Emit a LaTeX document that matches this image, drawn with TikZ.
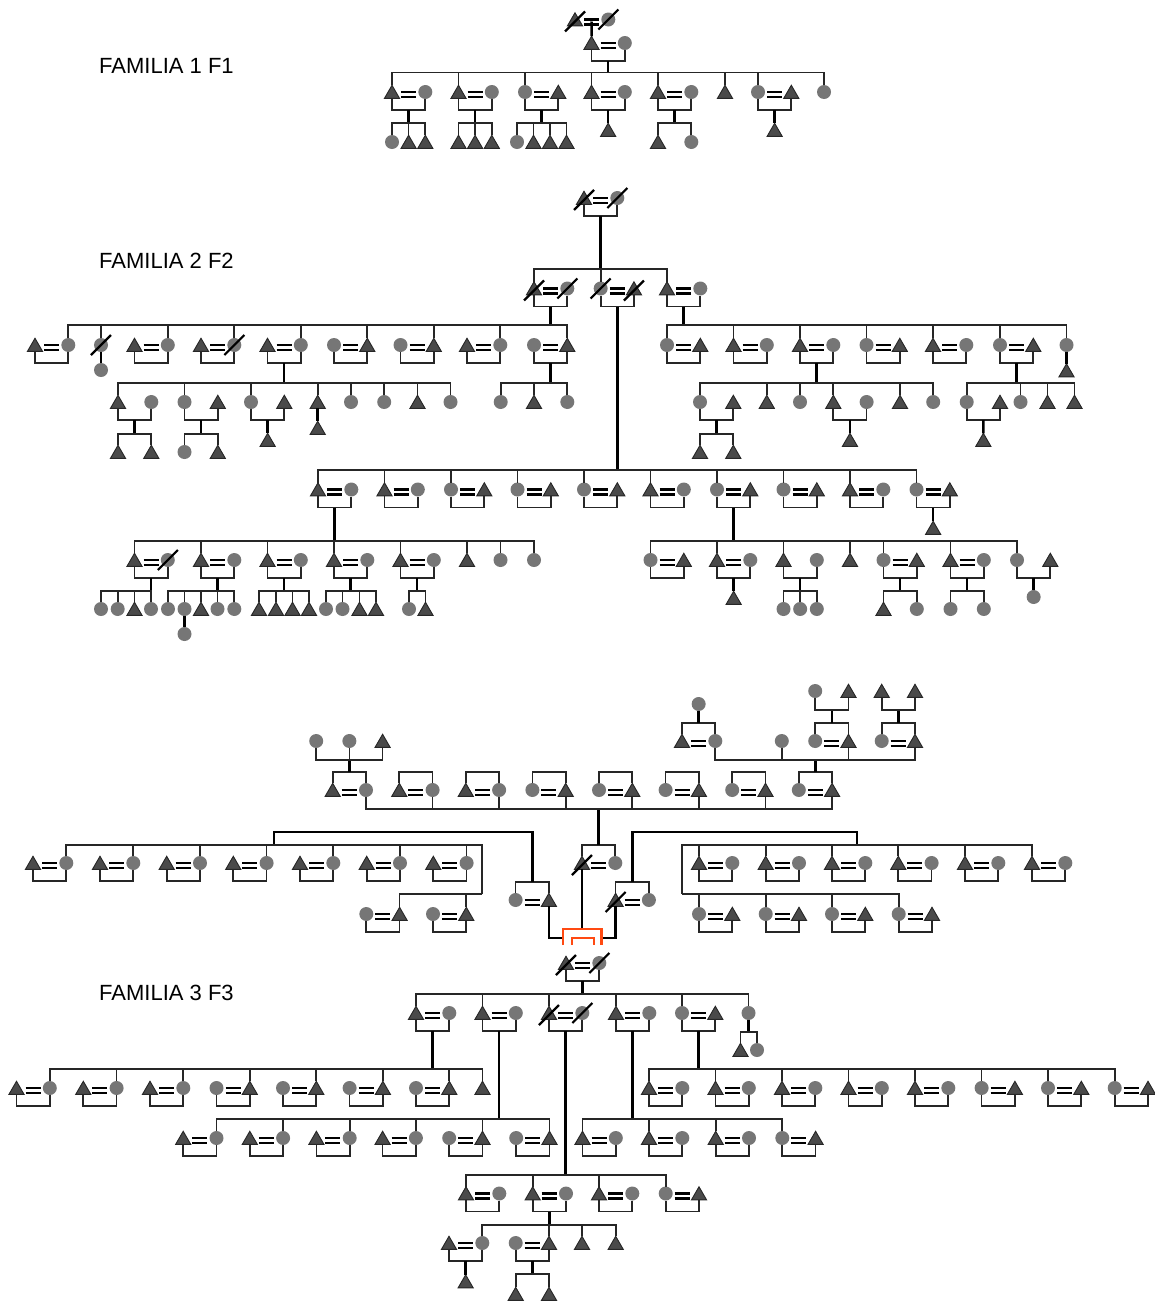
\documentclass[tikz,border=0pt]{standalone}
\usepackage{fontspec}
\setmainfont{Liberation Sans}
\usepackage{xcolor}
\usepackage{tikz}
\usetikzlibrary{shapes.geometric, positioning}

\definecolor{maleGray}{HTML}{4A4A4A}
\definecolor{femaleGray}{HTML}{767676}
\definecolor{lineGray}{HTML}{262626}
\definecolor{incestRed}{HTML}{FF4A12}

\newcommand{\spouses}[5]{%
  \node[#4] (#1-l) at (#2,#3) {};
  \node[#5] (#1-r) at (#2+33.3,#3) {};
  \coordinate (#1-e) at (#2+16.65,#3+2);
  \draw[wed] (#2+9,#3+0.1) -- ++(15,0);
  \draw[wed] (#2+9,#3+4.9) -- ++(15,0);
}
\newcommand{\parents}[5]{%
  \node[#4] (#1-l) at (#2,#3) {};
  \node[#5] (#1-r) at (#2+33.3,#3) {};
  \coordinate (#1-m) at (#2+16.65,#3+18);
  \draw[kin] (#1-l.south) |- (#1-m) -| (#1-r.south);
}
\newcommand{\couple}[5]{%
  \spouses{#1}{#2}{#3}{#4}{#5}
  \coordinate (#1-m) at (#2+16.65,#3+18);
  \draw[kin] (#1-l.south) |- (#1-m) -| (#1-r.south);
}
\newcommand{\coupleup}[5]{%
  \spouses{#1}{#2}{#3}{#4}{#5}
  \coordinate (#1-m) at (#2+16.65,#3-18);
  \draw[kin] (#1-l.north) |- (#1-m) -| (#1-r.north);
}
\newcommand{\people}[2]{\foreach \nm/\kd/\xx in {#2} \node[\kd] (\nm) at (\xx,#1) {};}
\newcommand{\descent}[4][north]{%
  \coordinate (#2-drop) at (#2 |- 0,#3);
  \draw[link] (#2) -- (#2-drop);
  \foreach \kid in {#4} \draw[kin] (#2-drop) -| (\kid.#1);
}
\newcommand{\deceased}[1]{\draw[slash] ([shift={(-10,10)}]#1.center) -- ([shift={(10,-10)}]#1.center);}

\begin{document}
\begin{tikzpicture}[
    x=1pt, y=-1pt,
    tri/.style={regular polygon, regular polygon sides=3, minimum size=17.5pt, inner sep=0pt, outer sep=0pt, draw=lineGray, line width=0.9pt, fill=maleGray, yshift=-2pt},
    cir/.style={circle, minimum size=14pt, inner sep=0pt, outer sep=0pt, fill=femaleGray},
    kin/.style={line width=1.7pt, lineGray},
    link/.style={line width=2.5pt, black},
    wed/.style={line width=2.5pt, black},
    slash/.style={line width=2.2pt, black},
    incest/.style={line width=2.4pt, incestRed},
    familytitle/.style={anchor=west, inner sep=0pt, font=\fontsize{22}{26}\selectfont}
]
\useasboundingbox (0,0) rectangle (1155,1304);

\node[familytitle] (title1) at (99,66) {FAMILIA 1 F1};
\node[familytitle] (title2) at (99,261) {FAMILIA 2 F2};
\node[familytitle] (title3) at (99,993) {FAMILIA 3 F3};

% familia 1
\spouses{f1top}{575}{19.5}{tri}{cir}
\deceased{f1top-l}
\deceased{f1top-r}
\couple{f1par}{591.5}{43}{tri}{cir}
\draw[link] (f1top-e) -- (f1par-l.north);
\couple{f1a}{392}{92}{tri}{cir}
\couple{f1b}{458.5}{92}{tri}{cir}
\couple{f1c}{525}{92}{cir}{tri}
\couple{f1d}{591.5}{92}{tri}{cir}
\couple{f1e}{658}{92}{tri}{cir}
\couple{f1g}{758}{92}{cir}{tri}
\people{92}{f1f/tri/725, f1h/cir/824}
\descent{f1par-m}{72.5}{f1a-l,f1b-l,f1c-l,f1d-l,f1e-l,f1f,f1g-l,f1h}
\people{142}{f1a1/cir/392, f1a2/tri/408.6, f1a3/tri/425.3}
\people{142}{f1b1/tri/458.5, f1b2/tri/475.1, f1b3/tri/491.8}
\people{142}{f1c1/cir/517, f1c2/tri/533.5, f1c3/tri/550, f1c4/tri/566.5}
\people{142}{f1e1/tri/658, f1e2/cir/691.3}
\people{130}{f1d1/tri/608.15, f1g1/tri/774.65}
\descent{f1a-m}{123}{f1a1,f1a2,f1a3}
\descent{f1b-m}{123}{f1b1,f1b2,f1b3}
\descent{f1c-m}{123}{f1c1,f1c2,f1c3,f1c4}
\descent{f1e-m}{123}{f1e1,f1e2}
\draw[link] (f1d-m) -- (f1d1.north);
\draw[link] (f1g-m) -- (f1g1.north);

% familia 2
\couple{f2top}{584}{198}{tri}{cir}
\deceased{f2top-l}
\deceased{f2top-r}
\couple{f2a}{534}{288.5}{tri}{cir}
\couple{f2b}{600.65}{288.5}{cir}{tri}
\couple{f2c}{667}{288.5}{tri}{cir}
\deceased{f2a-l}
\deceased{f2a-r}
\deceased{f2b-l}
\deceased{f2b-r}
\descent{f2top-m}{269}{f2a-l,f2b-l,f2c-l}

\couple{f2d}{35}{345}{tri}{cir}
\couple{f2f}{134.5}{345}{tri}{cir}
\couple{f2g}{201}{345}{tri}{cir}
\couple{f2h}{267.5}{345}{tri}{cir}
\couple{f2i}{334}{345}{cir}{tri}
\couple{f2j}{400.5}{345}{cir}{tri}
\couple{f2k}{467}{345}{tri}{cir}
\couple{f2l}{534}{345}{cir}{tri}
\people{345}{f2e/cir/101}
\people{370}{f2e1/cir/101}
\deceased{f2e}
\deceased{f2g-r}
\draw[link] (f2e.south) -- (f2e1.north);
\descent{f2a-m}{325}{f2d-r,f2e,f2f-r,f2g-r,f2h-r,f2i-r,f2j-r,f2k-r,f2l-r}

\parents{f2m}{118}{402}{tri}{cir}
\parents{f2n}{184.5}{402}{cir}{tri}
\parents{f2o}{251}{402}{cir}{tri}
\people{402}{f2p/tri/317.7, f2p2/cir/351, f2p3/cir/384.2, f2p4/tri/417.5, f2p5/cir/450.5}
\descent{f2h-m}{383}{f2m-l,f2n-l,f2o-l,f2p,f2p2,f2p3,f2p4,f2p5}
\people{452}{f2m1/tri/118, f2m2/tri/151.3, f2n1/cir/184.5, f2n2/tri/217.8}
\people{440}{f2o1/tri/267.65}
\people{428}{f2p1/tri/317.7}
\descent{f2m-m}{434}{f2m1,f2m2}
\descent{f2n-m}{434}{f2n1,f2n2}
\draw[link] (f2o-m) -- (f2o1.north);
\draw[link] (f2p.south) -- (f2p1.north);
\people{402}{f2l1/cir/500.7, f2l2/tri/534, f2l3/cir/567.3}
\descent{f2l-m}{383}{f2l1,f2l2,f2l3}

\couple{f2q}{667}{345}{cir}{tri}
\couple{f2r}{733.5}{345}{tri}{cir}
\couple{f2s}{800}{345}{tri}{cir}
\couple{f2t}{866.5}{345}{cir}{tri}
\couple{f2u}{933}{345}{tri}{cir}
\couple{f2v}{1000}{345}{cir}{tri}
\people{345}{f2w/cir/1066.5}
\people{370.5}{f2w1/tri/1066.5}
\draw[link] (f2w.south) -- (f2w1.north);
\descent{f2c-m}{325}{f2q-l,f2r-l,f2s-l,f2t-l,f2u-l,f2v-l,f2w}

\parents{f2x}{700}{402}{cir}{tri}
\parents{f2y}{833.3}{402}{tri}{cir}
\people{402}{f2s3/tri/766.8, f2s4/cir/800, f2s7/tri/900, f2s8/cir/933.2}
\descent{f2s-m}{383}{f2x-l,f2s3,f2s4,f2y-l,f2s7,f2s8}
\people{452}{f2x1/tri/700, f2x2/tri/733.3}
\people{440}{f2y1/tri/849.95}
\descent{f2x-m}{434}{f2x1,f2x2}
\draw[link] (f2y-m) -- (f2y1.north);
\parents{f2z}{966.7}{402}{cir}{tri}
\people{402}{f2v3/cir/1020.5, f2v4/tri/1047.5, f2v5/tri/1074.5}
\descent{f2v-m}{383}{f2z-l,f2v3,f2v4,f2v5}
\people{440}{f2z1/tri/983.35}
\draw[link] (f2z-m) -- (f2z1.north);

\couple{f2r4a}{318}{489.5}{tri}{cir}
\couple{f2r4b}{384.5}{489.5}{tri}{cir}
\couple{f2r4c}{451}{489.5}{cir}{tri}
\couple{f2r4d}{517.5}{489.5}{cir}{tri}
\couple{f2r4e}{584}{489.5}{cir}{tri}
\couple{f2r4f}{650.5}{489.5}{tri}{cir}
\couple{f2r4g}{717}{489.5}{cir}{tri}
\couple{f2r4h}{783.5}{489.5}{cir}{tri}
\couple{f2r4i}{850}{489.5}{tri}{cir}
\couple{f2r4j}{916.5}{489.5}{cir}{tri}
\descent{f2b-m}{470}{f2r4a-l,f2r4b-l,f2r4c-l,f2r4d-l,f2r4e-l,f2r4f-l,f2r4g-l,f2r4h-l,f2r4i-l,f2r4j-l}
\people{528}{f2r4j1/tri/933.15}
\draw[link] (f2r4j-m) -- (f2r4j1.north);

\couple{f2r5a}{134.5}{560}{tri}{cir}
\couple{f2r5b}{201}{560}{tri}{cir}
\couple{f2r5c}{267.5}{560}{tri}{cir}
\couple{f2r5d}{334}{560}{tri}{cir}
\couple{f2r5e}{400.5}{560}{tri}{cir}
\people{560}{f2r5f/tri/467, f2r5g/cir/500.5, f2r5h/cir/534}
\deceased{f2r5a-r}
\descent{f2r4a-m}{541}{f2r5a-l,f2r5b-l,f2r5c-l,f2r5d-l,f2r5e-l,f2r5f,f2r5g,f2r5h}
\people{609}{f2a1/cir/101, f2a2/cir/117.7, f2a3/tri/134.5, f2a4/cir/151}
\people{609}{f2b1/cir/168, f2b2/cir/184.5, f2b3/tri/201, f2b4/cir/217.5, f2b5/cir/234.3}
\people{609}{f2c1/tri/259, f2c2/tri/276, f2c3/tri/292.5, f2c4/tri/309}
\people{609}{f2d1/cir/326, f2d2/cir/342.5, f2d3/tri/359.5, f2d4/tri/376}
\people{609}{f2e2/cir/409, f2e3/tri/425.5}
\people{634}{f2b21/cir/184.5}
\descent{f2r5a-m}{591}{f2a1,f2a2,f2a3,f2a4}
\descent{f2r5b-m}{591}{f2b1,f2b2,f2b3,f2b4,f2b5}
\descent{f2r5c-m}{591}{f2c1,f2c2,f2c3,f2c4}
\descent{f2r5d-m}{591}{f2d1,f2d2,f2d3,f2d4}
\descent{f2r5e-m}{591}{f2e2,f2e3}
\draw[link] (f2b2.south) -- (f2b21.north);

\couple{f2r5k}{650.5}{560}{cir}{tri}
\couple{f2r5l}{717}{560}{tri}{cir}
\parents{f2r5m}{783.5}{560}{tri}{cir}
\people{560}{f2r5n/tri/850}
\couple{f2r5o}{883.5}{560}{cir}{tri}
\couple{f2r5p}{950.5}{560}{tri}{cir}
\parents{f2r5q}{1017}{560}{cir}{tri}
\descent{f2r4g-m}{541}{f2r5k-l,f2r5l-l,f2r5m-l,f2r5n,f2r5o-l,f2r5p-l,f2r5q-l}
\people{598}{f2l4/tri/733.65}
\people{597}{f2q1/cir/1033.65}
\people{609}{f2m3/cir/783.5, f2m4/cir/800.15, f2m5/cir/816.8}
\people{609}{f2o2/tri/883.5, f2o3/cir/916.8, f2p6/cir/950.5, f2p7/cir/983.8}
\draw[link] (f2r5l-m) -- (f2l4.north);
\draw[link] (f2r5q-m) -- (f2q1.north);
\descent{f2r5m-m}{591}{f2m3,f2m4,f2m5}
\descent{f2r5o-m}{591}{f2o2,f2o3}
\descent{f2r5p-m}{591}{f2p6,f2p7}

% familia 3
\coupleup{f3a1}{332.7}{790}{tri}{cir}
\coupleup{f3a2}{399.3}{790}{tri}{cir}
\coupleup{f3a3}{465.8}{790}{tri}{cir}
\coupleup{f3a4}{532.4}{790}{cir}{tri}
\coupleup{f3a5}{599}{790}{cir}{tri}
\coupleup{f3a6}{665.6}{790}{cir}{tri}
\coupleup{f3a7}{732.2}{790}{cir}{tri}
\coupleup{f3a8}{798.8}{790}{cir}{tri}
\people{741}{f3t1/cir/316.2, f3t2/cir/349.35, f3t3/tri/382.6}
\descent[south]{f3a1-m}{760}{f3t1,f3t2,f3t3}
\coupleup{f3u}{682}{741}{tri}{cir}
\coupleup{f3v}{815.2}{741}{cir}{tri}
\coupleup{f3w}{881.7}{741}{cir}{tri}
\people{741}{f3x/cir/781.8}
\descent[south]{f3a8-m}{760}{f3u-r,f3x,f3v-r,f3w-r}
\people{704}{f3u1/cir/698.65}
\draw[link] (f3u-m) -- (f3u1.south);
\people{691}{f3v1/cir/815.2, f3v2/tri/848.5, f3w1/tri/881.7, f3w2/tri/915}
\descent[south]{f3v-m}{710}{f3v1,f3v2}
\descent[south]{f3w-m}{710}{f3w1,f3w2}

\coupleup{f3b}{582}{863}{tri}{cir}
\deceased{f3b-l}
\descent[south]{f3b-m}{809}{f3a1-r,f3a2-r,f3a3-r,f3a4-r,f3a5-r,f3a6-r,f3a7-r,f3a8-r}
\coupleup{f3c}{515.6}{900}{cir}{tri}
\coupleup{f3d}{615.6}{900}{tri}{cir}
\deceased{f3d-l}

\couple{f3l1}{33}{863}{tri}{cir}
\couple{f3l2}{100}{863}{tri}{cir}
\couple{f3l3}{166.7}{863}{tri}{cir}
\couple{f3l4}{233.3}{863}{tri}{cir}
\couple{f3l5}{300}{863}{tri}{cir}
\couple{f3l6}{366.7}{863}{tri}{cir}
\couple{f3l7}{433.3}{863}{tri}{cir}
\couple{f3l8}{366.3}{914}{cir}{tri}
\couple{f3l9}{433}{914}{cir}{tri}
\coordinate (f3lbar) at (274,845);
\coordinate (f3ltop) at (274,832);
\coordinate (f3lturn) at (482,894);
\draw[link] (f3c-m) |- (f3ltop) -- (f3lbar);
\foreach \kid in {f3l1-r,f3l2-r,f3l3-r,f3l4-r,f3l5-r,f3l6-r,f3l7-r} \draw[kin] (f3lbar) -| (\kid.north);
\draw[kin] (f3lbar) -| (f3lturn);
\draw[kin] (f3lturn) -| (f3l8-r.north);
\draw[kin] (f3lturn) -| (f3l9-r.north);

\couple{f3r1}{699}{863}{tri}{cir}
\couple{f3r2}{765.7}{863}{tri}{cir}
\couple{f3r3}{832}{863}{tri}{cir}
\couple{f3r4}{898.3}{863}{tri}{cir}
\couple{f3r5}{965}{863}{tri}{cir}
\couple{f3r6}{1032}{863}{tri}{cir}
\couple{f3r7}{699}{914}{cir}{tri}
\couple{f3r8}{765.7}{914}{cir}{tri}
\couple{f3r9}{832}{914}{cir}{tri}
\couple{f3r10}{898.7}{914}{cir}{tri}
\coordinate (f3rbar) at (857,845);
\coordinate (f3rtop) at (857,832);
\coordinate (f3rturn) at (682,894);
\draw[link] (f3d-m) |- (f3rtop) -- (f3rbar);
\foreach \kid in {f3r1-l,f3r2-l,f3r3-l,f3r4-l,f3r5-l,f3r6-l} \draw[kin] (f3rbar) -| (\kid.north);
\draw[kin] (f3rbar) -| (f3rturn);
\foreach \kid in {f3r7-l,f3r8-l,f3r9-l,f3r10-l} \draw[kin] (f3rturn) -| (\kid.north);

\coordinate (f3left) at (563,938);
\coordinate (f3right) at (601.5,938);
\coordinate (f3outl) at (563,945);
\coordinate (f3outr) at (601.5,945);
\coordinate (f3inl) at (572,945);
\coordinate (f3inr) at (594,945);
\coordinate (f3stem) at (f3b-l.south |- 0,929);
\coordinate (f3cross) at (f3b-l.south |- 0,938);
\draw[link] (f3c-r.south) |- (f3left);
\draw[link] (f3d-l.south) |- (f3right);
\draw[link] (f3b-l.south) -- (f3stem);
\draw[incest] (f3outl) |- (f3stem) -| (f3outr);
\draw[incest] (f3inl) |- (f3cross) -| (f3inr);

\couple{f3e}{566}{963}{tri}{cir}
\deceased{f3e-l}
\deceased{f3e-r}
\couple{f3f1}{416}{1013}{tri}{cir}
\couple{f3f2}{482.5}{1013}{tri}{cir}
\couple{f3f3}{549}{1013}{tri}{cir}
\couple{f3f4}{616}{1013}{tri}{cir}
\couple{f3f5}{682}{1013}{cir}{tri}
\deceased{f3f3-l}
\deceased{f3f3-r}
\people{1013}{f3f6/cir/748.5}
\descent{f3e-m}{994}{f3f1-l,f3f2-l,f3f3-l,f3f4-l,f3f5-l,f3f6}
\people{1050}{f3f61/tri/740.5, f3f62/cir/757}
\descent{f3f6}{1032}{f3f61,f3f62}

\couple{f3g1}{16.5}{1088}{tri}{cir}
\couple{f3g2}{83.3}{1088}{tri}{cir}
\couple{f3g3}{150}{1088}{tri}{cir}
\couple{f3g4}{216.5}{1088}{cir}{tri}
\couple{f3g5}{283}{1088}{cir}{tri}
\couple{f3g6}{349.6}{1088}{cir}{tri}
\couple{f3g7}{416}{1088}{cir}{tri}
\people{1088}{f3g8/tri/482.5}
\descent{f3f1-m}{1069}{f3g1-r,f3g2-r,f3g3-r,f3g4-r,f3g5-r,f3g6-r,f3g7-r,f3g8}

\couple{f3h1}{183.2}{1138}{tri}{cir}
\couple{f3h2}{249.8}{1138}{tri}{cir}
\couple{f3h3}{316.4}{1138}{tri}{cir}
\couple{f3h4}{382.6}{1138}{tri}{cir}
\couple{f3h5}{449.2}{1138}{cir}{tri}
\couple{f3h6}{516.2}{1138}{cir}{tri}
\descent{f3f2-m}{1119}{f3h1-r,f3h2-r,f3h3-r,f3h4-r,f3h5-r,f3h6-r}

\couple{f3i1}{582.5}{1138}{tri}{cir}
\couple{f3i2}{649}{1138}{tri}{cir}
\couple{f3i3}{715.7}{1138}{tri}{cir}
\couple{f3i4}{782.3}{1138}{cir}{tri}
\descent{f3f4-m}{1119}{f3i1-l,f3i2-l,f3i3-l,f3i4-l}

\couple{f3j1}{649}{1088}{tri}{cir}
\couple{f3j2}{715.5}{1088}{tri}{cir}
\couple{f3j3}{782}{1088}{tri}{cir}
\couple{f3j4}{848.5}{1088}{tri}{cir}
\couple{f3j5}{915}{1088}{tri}{cir}
\couple{f3j6}{981.6}{1088}{cir}{tri}
\couple{f3j7}{1048}{1088}{cir}{tri}
\couple{f3j8}{1114.7}{1088}{cir}{tri}
\descent{f3f5-m}{1069}{f3j1-l,f3j2-l,f3j3-l,f3j4-l,f3j5-l,f3j6-l,f3j7-l,f3j8-l}

\couple{f3k1}{466}{1193.5}{tri}{cir}
\couple{f3k2}{532.7}{1193.5}{tri}{cir}
\couple{f3k3}{599}{1193.5}{tri}{cir}
\couple{f3k4}{665.7}{1193.5}{cir}{tri}
\descent{f3f3-m}{1175}{f3k1-l,f3k2-l,f3k3-l,f3k4-l}

\couple{f3m1}{449}{1243}{tri}{cir}
\couple{f3m2}{515.7}{1243}{cir}{tri}
\people{1243}{f3m3/tri/582, f3m4/tri/615.7}
\descent{f3k2-m}{1225}{f3m1-r,f3m2-r,f3m3,f3m4}
\people{1281.5}{f3m11/tri/465.65}
\draw[link] (f3m1-m) -- (f3m11.north);
\people{1294}{f3m21/tri/515.7, f3m22/tri/549}
\descent{f3m2-m}{1274}{f3m21,f3m22}
\end{tikzpicture}
\end{document}
